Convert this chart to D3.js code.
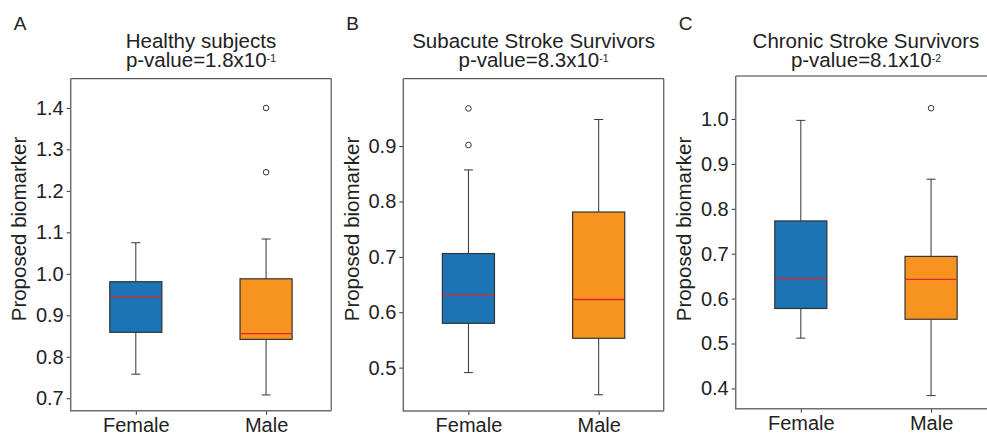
<!DOCTYPE html>
<html>
<head>
<meta charset="utf-8">
<script src="https://cdn.jsdelivr.net/npm/d3@7"></script>
<style>
  body { margin: 0; background: #fff; }
  svg { display: block; font-family: "Liberation Sans", Arial, sans-serif; }
  text { fill: #222; }
</style>
</head>
<body>
<script>
// --- data ---
const groups = ["Female", "Male"]
const panelLetters = ["A", "B", "C"]
const panelTitles = ["Healthy subjects", "Subacute Stroke Survivors", "Chronic Stroke Survivors"]
const pMantissa = ["1.8", "8.3", "8.1"]
const pExponent = ["-1", "-1", "-2"]

// [whisker low, q1, median, q3, whisker high] for Female, Male
const healthyStats = [[0.758, 0.859, 0.944, 0.981, 1.075], [0.708, 0.842, 0.856, 0.988, 1.084]]
const healthyOutliers = [[], [1.245, 1.400]]
const subacuteStats = [[0.491, 0.580, 0.631, 0.706, 0.857], [0.451, 0.553, 0.623, 0.781, 0.948]]
const subacuteOutliers = [[0.902, 0.968], []]
const chronicStats = [[0.512, 0.578, 0.645, 0.773, 0.997], [0.384, 0.554, 0.643, 0.694, 0.866]]
const chronicOutliers = [[], [1.024]]

const yDomains = [[0.670, 1.4705], [0.4217, 1.0217], [0.3548, 1.0958]]
const yTicks = [
    [0.7, 0.8, 0.9, 1.0, 1.1, 1.2, 1.3, 1.4],
    [0.5, 0.6, 0.7, 0.8, 0.9],
    [0.4, 0.5, 0.6, 0.7, 0.8, 0.9, 1.0]
]
const yLabel = "Proposed biomarker"

// --- layout ---
const width = 987
const height = 437
const panelLeft = [70.7, 403.3, 735.7]
const panelTop = [78.7, 78.7, 76]
const panelBottom = [410.7, 411, 408.7]
const panelWidth = 260.5
const colors = ["#1b75b5", "#f7931f"]

const stats = [healthyStats, subacuteStats, chronicStats]
const outliers = [healthyOutliers, subacuteOutliers, chronicOutliers]

const svg = d3.select("body").append("svg")
    .attr("width", width)
    .attr("height", height)

panelTitles.forEach((title, i) => {
    const h = panelBottom[i] - panelTop[i]
    const w = panelWidth
    const g = svg.append("g").attr("transform", `translate(${panelLeft[i]},${panelTop[i]})`)

    const x = d3.scalePoint().domain(groups).range([0, w]).padding(0.5)
    const y = d3.scaleLinear().domain(yDomains[i]).range([h, 0])
    const boxW = x.step() * 0.4
    const capW = 9

    // axes
    const yAxis = g.append("g")
        .call(d3.axisLeft(y).tickValues(yTicks[i]).tickFormat(d3.format(".1f")).tickSize(4).tickPadding(3))
    const xAxis = g.append("g")
        .attr("transform", `translate(0,${h})`)
        .call(d3.axisBottom(x).tickSize(4).tickPadding(3))
    ;[yAxis, xAxis].forEach(a => {
        a.select(".domain").remove()
        a.selectAll(".tick line").attr("stroke", "#333")
        a.selectAll(".tick text")
            .attr("font-size", 20)
            .attr("font-family", "Liberation Sans, Arial, sans-serif")
            .attr("fill", "#222")
    })

    // spines
    g.append("line")
        .attr("x1", 0).attr("x2", w).attr("y1", 0).attr("y2", 0)
        .attr("stroke", "#333").attr("stroke-width", 1)
    g.append("line")
        .attr("x1", w).attr("x2", w).attr("y1", 0).attr("y2", h)
        .attr("stroke", "#333").attr("stroke-width", 1)
    g.append("line")
        .attr("x1", 0).attr("x2", 0).attr("y1", 0).attr("y2", h + 0.7)
        .attr("stroke", "#6e6e6e").attr("stroke-width", 1.5)
    g.append("line")
        .attr("x1", 0).attr("x2", w).attr("y1", h).attr("y2", h)
        .attr("stroke", "#6e6e6e").attr("stroke-width", 1.5)

    // boxes
    const box = g.selectAll(".box")
        .data(groups.map((name, k) => ({ name, s: stats[i][k], out: outliers[i][k], color: colors[k] })))
        .enter()
        .append("g")
        .attr("class", "box")

    box.append("line")
        .attr("x1", d => x(d.name)).attr("x2", d => x(d.name))
        .attr("y1", d => y(d.s[0])).attr("y2", d => y(d.s[1]))
        .attr("stroke", "#333")
    box.append("line")
        .attr("x1", d => x(d.name)).attr("x2", d => x(d.name))
        .attr("y1", d => y(d.s[3])).attr("y2", d => y(d.s[4]))
        .attr("stroke", "#333")
    box.selectAll(".cap")
        .data(d => [d.s[0], d.s[4]].map(v => ({ v, name: d.name })))
        .enter()
        .append("line")
        .attr("class", "cap")
        .attr("x1", d => x(d.name) - capW / 2).attr("x2", d => x(d.name) + capW / 2)
        .attr("y1", d => y(d.v)).attr("y2", d => y(d.v))
        .attr("stroke", "#333")
    box.append("rect")
        .attr("x", d => x(d.name) - boxW / 2)
        .attr("width", boxW)
        .attr("y", d => y(d.s[3]))
        .attr("height", d => y(d.s[1]) - y(d.s[3]))
        .attr("fill", d => d.color)
        .attr("stroke", "#333")
        .attr("stroke-width", 1.2)
    box.append("line")
        .attr("x1", d => x(d.name) - boxW / 2 + 0.6).attr("x2", d => x(d.name) + boxW / 2 - 0.6)
        .attr("y1", d => y(d.s[2])).attr("y2", d => y(d.s[2]))
        .attr("stroke", "#e3262b")
        .attr("stroke-width", 1.3)
    box.selectAll(".flier")
        .data(d => d.out.map(v => ({ v, name: d.name })))
        .enter()
        .append("circle")
        .attr("class", "flier")
        .attr("cx", d => x(d.name))
        .attr("cy", d => y(d.v))
        .attr("r", 2.8)
        .attr("fill", "none")
        .attr("stroke", "#333")
        .attr("stroke-width", 1)

    // y label
    svg.append("text")
        .attr("transform", `translate(${panelLeft[i] - 44.5},229) rotate(-90)`)
        .attr("text-anchor", "middle")
        .attr("font-size", 20.5)
        .text(yLabel)

    // title, two tight lines with a small superscript exponent
    const cx = panelLeft[i] + w / 2
    svg.append("text")
        .attr("x", cx).attr("y", 47.5)
        .attr("text-anchor", "middle")
        .attr("font-size", 20.5)
        .text(title)
    const t2 = svg.append("text")
        .attr("x", cx).attr("y", 67)
        .attr("text-anchor", "middle")
        .attr("font-size", 20.5)
    t2.append("tspan").text(`p-value=${pMantissa[i]}x10`)
    t2.append("tspan")
        .attr("font-size", 10.5)
        .attr("dy", -5.5)
        .text(pExponent[i])

    // panel letter
    svg.append("text")
        .attr("x", panelLeft[i] - 57).attr("y", 29.5)
        .attr("font-size", 19)
        .text(panelLetters[i])
})
</script>
</body>
</html>
